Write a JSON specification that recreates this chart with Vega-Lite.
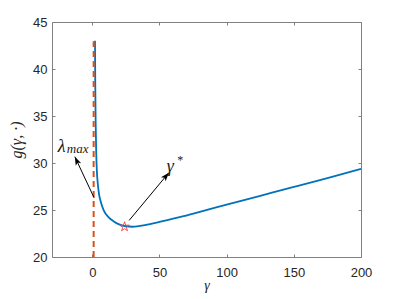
{
  "$schema": "https://vega.github.io/schema/vega-lite/v6.json",
  "width": 309,
  "height": 235,
  "autosize": {"type": "none"},
  "padding": {"left": 52, "top": 22, "right": 38, "bottom": 42},
  "background": "white",
  "config": {
    "view": {"stroke": null},
    "axis": {
      "grid": false,
      "domainColor": "#808080",
      "domainWidth": 1,
      "tickColor": "#808080",
      "tickWidth": 1,
      "tickSize": -3,
      "labelColor": "#262626",
      "labelFont": "Liberation Sans",
      "labelFontSize": 13,
      "labelFlush": false,
      "titleColor": "#262626",
      "titleFont": "Liberation Serif",
      "titleFontStyle": "italic",
      "titleFontWeight": "normal",
      "titleFontSize": 16
    }
  },
  "datasets": {
    "curve": [
      {"gamma": 2.0, "g": 43.0},
      {"gamma": 2.2, "g": 38.4},
      {"gamma": 2.5, "g": 34.3},
      {"gamma": 2.9, "g": 31.2},
      {"gamma": 3.4, "g": 29.15},
      {"gamma": 4.0, "g": 27.93},
      {"gamma": 5.0, "g": 26.7},
      {"gamma": 6.3, "g": 25.87},
      {"gamma": 8.5, "g": 24.95},
      {"gamma": 12, "g": 24.24},
      {"gamma": 16, "g": 23.78},
      {"gamma": 20, "g": 23.47},
      {"gamma": 25, "g": 23.27},
      {"gamma": 30, "g": 23.22},
      {"gamma": 40, "g": 23.42},
      {"gamma": 50, "g": 23.74},
      {"gamma": 65, "g": 24.24},
      {"gamma": 80, "g": 24.8},
      {"gamma": 100, "g": 25.57},
      {"gamma": 125, "g": 26.51},
      {"gamma": 150, "g": 27.45},
      {"gamma": 175, "g": 28.4},
      {"gamma": 200, "g": 29.37}
    ],
    "lambdaLine": [
      {"gamma": 1.0, "g": 20},
      {"gamma": 1.0, "g": 42.95}
    ],
    "optimum": [
      {"gamma": 24, "g": 23.22}
    ],
    "arrows": [
      {"id": "lambda", "x1": 1.4, "y1": 26.28, "x2": -13.0, "y2": 30.67},
      {"id": "gamma", "x1": 27.4, "y1": 23.89, "x2": 57.0, "y2": 28.97}
    ]
  },
  "layer": [
    {
      "data": {"name": "curve"},
      "mark": {"type": "line", "color": "#0072BD", "strokeWidth": 1.8, "interpolate": "monotone"},
      "encoding": {
        "x": {"field": "gamma", "type": "quantitative",
              "scale": {"domain": [-30, 200], "nice": false, "zero": false},
              "axis": {"orient": "bottom", "values": [0, 50, 100, 150, 200], "title": "γ", "labelPadding": 12, "titlePadding": -1, "titleFontSize": 14}},
        "y": {"field": "g", "type": "quantitative",
              "scale": {"domain": [20, 45], "nice": false, "zero": false},
              "axis": {"orient": "left", "values": [20, 25, 30, 35, 40, 45], "title": "g(γ, ·)", "labelPadding": 8, "titlePadding": 8}}
      }
    },
    {
      "data": {"name": "lambdaLine"},
      "mark": {"type": "line", "color": "#D95319", "strokeWidth": 2, "strokeDash": [6, 4]},
      "encoding": {
        "x": {"field": "gamma", "type": "quantitative",
              "axis": {"orient": "top", "values": [0, 50, 100, 150, 200], "labels": false, "title": null}},
        "y": {"field": "g", "type": "quantitative",
              "axis": {"orient": "right", "values": [20, 25, 30, 35, 40, 45], "labels": false, "title": null}}
      }
    },
    {
      "data": {"name": "optimum"},
      "mark": {"type": "point", "shape": "M0,-1L0.2245,-0.309L0.9511,-0.309L0.3633,0.118L0.5878,0.809L0,0.382L-0.5878,0.809L-0.3633,0.118L-0.9511,-0.309L-0.2245,-0.309Z", "size": 100, "filled": false, "stroke": "#F04040", "strokeWidth": 0.9, "opacity": 1},
      "encoding": {
        "x": {"field": "gamma", "type": "quantitative", "axis": null},
        "y": {"field": "g", "type": "quantitative", "axis": null}
      }
    },
    {
      "data": {"name": "arrows"},
      "mark": {"type": "rule", "color": "black", "strokeWidth": 1},
      "encoding": {
        "x": {"field": "x1", "type": "quantitative", "axis": null},
        "y": {"field": "y1", "type": "quantitative", "axis": null},
        "x2": {"field": "x2"},
        "y2": {"field": "y2"}
      }
    },
    {
      "data": {"name": "arrows"},
      "transform": [{"filter": "datum.id === 'lambda'"}],
      "mark": {"type": "point", "shape": "M0,0L0.35,1L0,0.75L-0.35,1Z", "size": 300, "filled": true, "color": "black", "opacity": 1, "angle": 335},
      "encoding": {
        "x": {"field": "x2", "type": "quantitative", "axis": null},
        "y": {"field": "y2", "type": "quantitative", "axis": null}
      }
    },
    {
      "data": {"name": "arrows"},
      "transform": [{"filter": "datum.id === 'gamma'"}],
      "mark": {"type": "point", "shape": "M0,0L0.35,1L0,0.75L-0.35,1Z", "size": 300, "filled": true, "color": "black", "opacity": 1, "angle": 40},
      "encoding": {
        "x": {"field": "x2", "type": "quantitative", "axis": null},
        "y": {"field": "y2", "type": "quantitative", "axis": null}
      }
    },
    {
      "data": {"values": [{"label": "λ", "x": -25.7, "y": 31.2}, {"label": "γ", "x": 55.5, "y": 29.07}]},
      "mark": {"type": "text", "font": "Liberation Serif", "fontSize": 18, "fontStyle": "italic", "align": "left", "baseline": "alphabetic", "color": "#1a1a1a"},
      "encoding": {
        "x": {"field": "x", "type": "quantitative", "axis": null},
        "y": {"field": "y", "type": "quantitative", "axis": null},
        "text": {"field": "label"}
      }
    },
    {
      "data": {"values": [{"label": "max", "x": -19.0, "y": 31.1}]},
      "mark": {"type": "text", "font": "Liberation Serif", "fontSize": 13, "fontStyle": "italic", "align": "left", "baseline": "alphabetic", "color": "#1a1a1a"},
      "encoding": {
        "x": {"field": "x", "type": "quantitative", "axis": null},
        "y": {"field": "y", "type": "quantitative", "axis": null},
        "text": {"field": "label"}
      }
    },
    {
      "data": {"values": [{"label": "*", "x": 65.5, "y": 30.3}]},
      "mark": {"type": "text", "font": "Liberation Serif", "fontSize": 12, "align": "center", "baseline": "middle", "color": "#1a1a1a"},
      "encoding": {
        "x": {"field": "x", "type": "quantitative", "axis": null},
        "y": {"field": "y", "type": "quantitative", "axis": null},
        "text": {"field": "label"}
      }
    }
  ],
  "resolve": {"axis": {"x": "independent", "y": "independent"}}
}
